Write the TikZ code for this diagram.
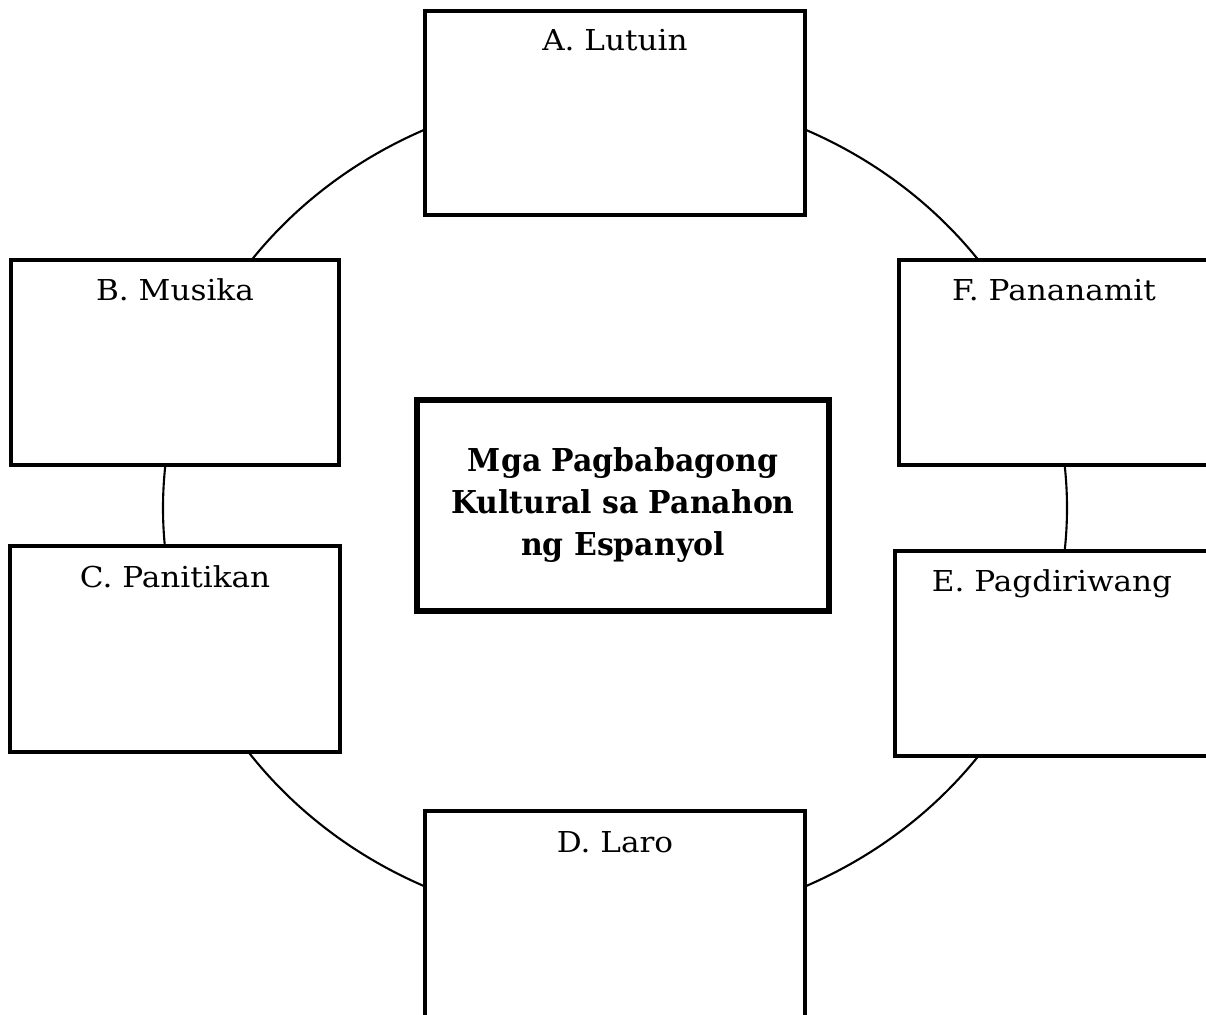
\documentclass[tikz,border=0pt]{standalone}
\usepackage{fontspec}
\setmainfont{DejaVu Serif}
\newfontfamily\lblfont[FakeStretch=1.08]{DejaVu Serif}
\newfontfamily\ctrfont[FakeStretch=0.95]{DejaVu Serif}
\begin{document}
\begin{tikzpicture}[x=1pt,y=-1pt,
  box/.style={draw=black,line width=4pt,fill=white,inner sep=0pt,
    minimum width=#1},
  box/.default=380pt,
  lbl/.style={anchor=base,inner sep=0pt,font=\lblfont\fontsize{28.8}{32}\selectfont},
  ctr/.style={draw=black,line width=5.5pt,fill=white,inner sep=0pt,
    minimum width=412pt,minimum height=211pt},
  ring/.style={draw=black,line width=2.1pt}]
\useasboundingbox (0,0) rectangle (1206,1014);
\clip (0,0) rectangle (1206,1014);
\fill[white] (0,0) rectangle (1206,1014);
\coordinate (o) at (615,508);
\draw[ring] (o) ellipse [x radius=452pt, y radius=417pt];
% boxes
\node[box=380pt,minimum height=204pt] (A) at (615,113) {};
\node[box=328pt,minimum height=205pt] (B) at (175,362) {};
\node[box=330pt,minimum height=206pt] (C) at (175,649) {};
\node[box=380pt,minimum height=210pt] (D) at (615,916) {};
\node[box=311pt,minimum height=205pt] (F) at (1054,362) {};
\node[box=315pt,minimum height=205pt] (E) at (1052,653) {};
\node[ctr] (M) at (623,505.5) {};
% labels
\node[lbl] (tA) at ([yshift=-42pt]A.north) {A. Lutuin};
\node[lbl] (tB) at ([yshift=-43pt]B.north) {B. Musika};
\node[lbl] (tC) at ([yshift=-43pt]C.north) {C. Panitikan};
\node[lbl] (tD) at ([yshift=-43pt]D.north) {D. Laro};
\node[lbl] (tF) at ([yshift=-43pt]F.north) {F. Pananamit};
\node[lbl] (tE) at ([yshift=-43pt]E.north) {E. Pagdiriwang};
\node[align=center,inner sep=0pt,font=\ctrfont\bfseries\fontsize{31.5}{41.7}\selectfont]
  (tM) at (623,505) {Mga Pagbabagong\\Kultural sa Panahon\\ng Espanyol};
\end{tikzpicture}
\end{document}
